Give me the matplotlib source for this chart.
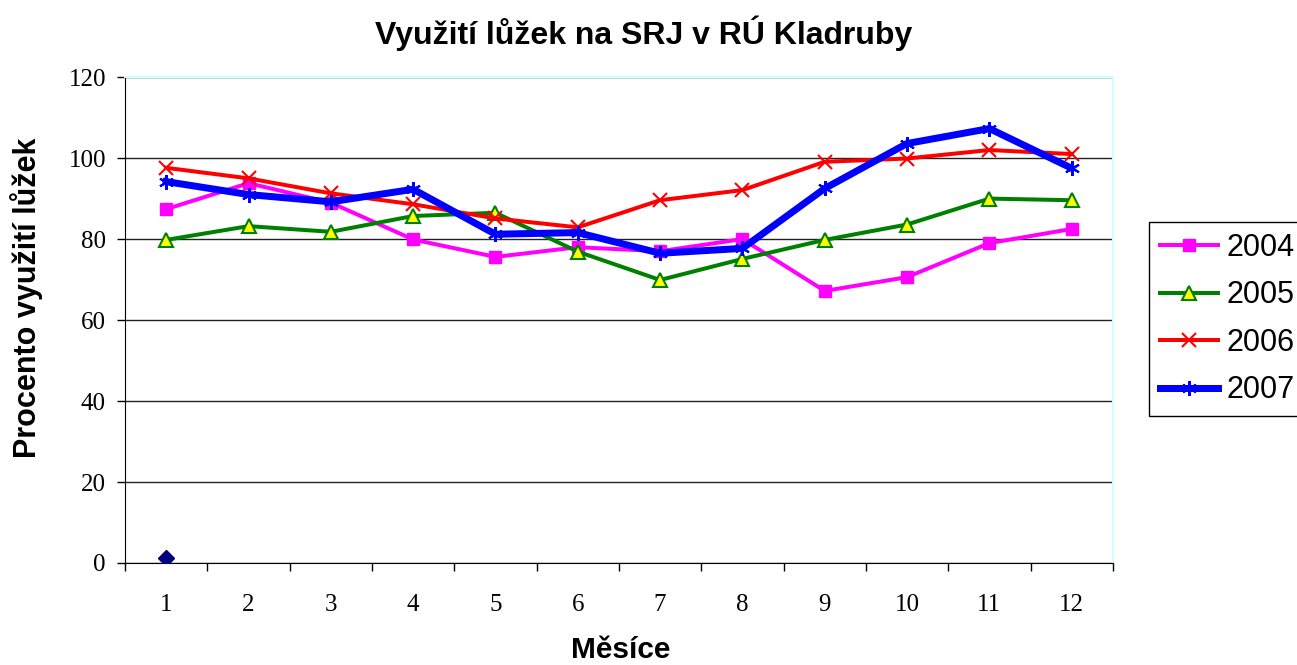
import matplotlib
matplotlib.use("Agg")
import matplotlib.pyplot as plt
import numpy as np

months = list(range(1, 13))
month_labels = [str(m) for m in months]
y2004 = [87.4, 93.8, 89.0, 79.9, 75.6, 78.0, 77.0, 80.0, 67.2, 70.6, 79.0, 82.5]
y2005 = [79.8, 83.2, 81.8, 85.7, 86.5, 76.9, 69.9, 75.1, 79.8, 83.6, 90.0, 89.6]
y2006 = [97.6, 95.0, 91.3, 88.6, 85.1, 82.9, 89.6, 92.1, 99.1, 99.9, 102.0, 101.0]
y2007 = [94.2, 91.0, 89.2, 92.3, 81.2, 81.6, 76.5, 77.7, 92.5, 103.6, 107.3, 97.5]
extra_x = [1]
extra_y = [1.3]

fig = plt.figure(figsize=(12.97, 6.65), dpi=100)
ax = fig.add_axes([0.0964, 0.1534, 0.7616, 0.7306])

px = 0.72  # points per pixel at 100 dpi
ax.plot(extra_x, extra_y, linestyle='none', marker='D', color='#000080',
        markersize=8, zorder=3)
l1, = ax.plot(months, y2004, color='#FF00FF', lw=4*px, marker='s', markersize=12*px,
              markerfacecolor='#FF00FF', markeredgecolor='#FF00FF', label='2004', zorder=4)
l2, = ax.plot(months, y2005, color='#008000', lw=4*px, marker='^', markersize=14*px,
              markerfacecolor='#FFFF00', markeredgecolor='#008000', markeredgewidth=1.5,
              label='2005', zorder=4)
l3, = ax.plot(months, y2006, color='#FF0000', lw=4*px, marker='x', markersize=14*px,
              markeredgewidth=1.5, label='2006', zorder=4)
l4, = ax.plot(months, y2007, color='#0000FF', lw=7*px, marker=(6, 2, 0), markersize=15*px,
              markeredgewidth=1.5, label='2007', zorder=5)

ax.set_xlim(0.5, 12.5)
ax.set_ylim(0, 120)
ax.set_yticks(np.arange(0, 121, 20))
ax.set_xticks(np.arange(0.5, 12.6, 1))
ax.set_xticklabels([])
ax.set_xticks(months, minor=True)
ax.set_xticklabels(month_labels, minor=True)
ax.tick_params(axis='x', which='major', length=8*px, width=1, direction='out', color='black')
ax.tick_params(axis='x', which='minor', length=0, pad=22)
ax.tick_params(axis='y', length=8*px, width=1, direction='out', pad=8)
for lab in ax.get_xticklabels(minor=True) + ax.get_yticklabels():
    lab.set_fontfamily('Liberation Serif')
    lab.set_fontsize(18)

ax.yaxis.grid(True, color='#222222', lw=1)
ax.set_axisbelow(True)
ax.spines['left'].set_color('black')
ax.spines['bottom'].set_color('black')
ax.spines['top'].set_color('#CCFFFF')
ax.spines['right'].set_color('#CCFFFF')
ax.spines['top'].set_linewidth(1.5)
ax.spines['right'].set_linewidth(1.5)

fig.text(644 / 1297, 1 - 33 / 665, 'Využití lůžek na SRJ v RÚ Kladruby',
         ha='center', va='center', fontsize=23, fontweight='bold', family='Liberation Sans')
fig.text(27 / 1297, 1 - 298 / 665, 'Procento využití lůžek', rotation=90,
         ha='center', va='center', fontsize=22, fontweight='bold', family='Liberation Sans')
fig.text(621 / 1297, 1 - 650 / 665, 'Měsíce',
         ha='center', va='center', fontsize=21.5, fontweight='bold', family='Liberation Sans')

leg = fig.legend(handles=[l1, l2, l3, l4], loc='upper left',
                 bbox_to_anchor=(1149 / 1297, 1 - 222 / 665),
                 prop={'family': 'Liberation Sans', 'size': 22},
                 frameon=True, fancybox=False, edgecolor='black', framealpha=1,
                 handlelength=1.9, handletextpad=0.26, labelspacing=0.57,
                 borderpad=0.36, borderaxespad=0)
leg.get_frame().set_linewidth(1)

fig.savefig('out.png', dpi=100)
